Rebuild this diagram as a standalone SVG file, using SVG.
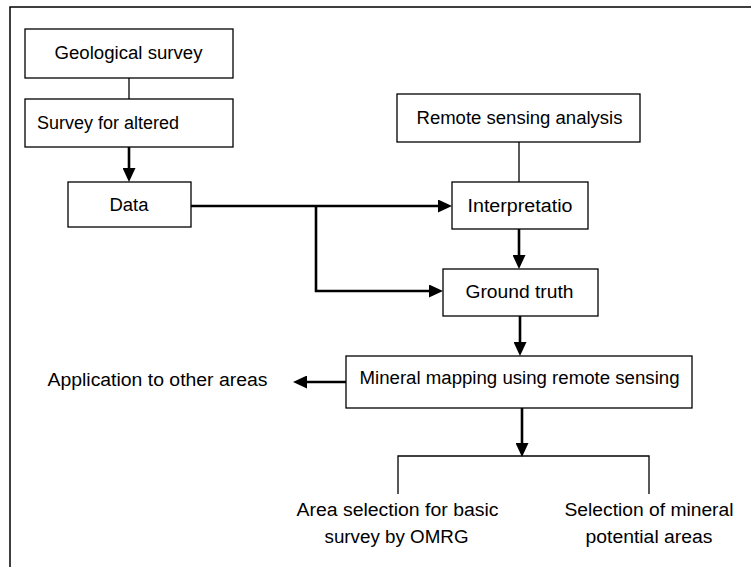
<svg xmlns="http://www.w3.org/2000/svg" width="751" height="567" viewBox="0 0 751 567">
<style>
  .box { fill: #fff; stroke: #000; stroke-width: 1.3; }
  .lbl { font-family: "Liberation Sans", Arial, sans-serif; font-size: 18px; fill: #000; }
  .c { text-anchor: middle; }
  .thin { fill: none; stroke: #000; stroke-width: 1.3; }
  .arr { fill: none; stroke: #000; stroke-width: 2.6; marker-end: url(#ah); }
  .bold { fill: none; stroke: #000; stroke-width: 2.6; }
</style>
<defs>
  <marker id="ah" viewBox="0 0 14 13" refX="0" refY="6.5" markerWidth="14" markerHeight="13" markerUnits="userSpaceOnUse" orient="auto">
    <path d="M0,0 L14,6.5 L0,13 z" fill="#000"/>
  </marker>
</defs>
<rect width="751" height="567" fill="#fff"/>
<rect id="frame" x="10" y="7" width="800" height="620" fill="none" stroke="#000" stroke-width="1.5"/>

<g id="connectors">
  <line class="thin" x1="129" y1="78" x2="129" y2="99"/>
  <line class="arr" x1="129" y1="147" x2="129" y2="168"/>
  <line class="arr" x1="191" y1="206" x2="438" y2="206"/>
  <polyline class="arr" points="316,206 316,291 429,291"/>
  <line class="thin" x1="519" y1="142" x2="519" y2="182"/>
  <line class="arr" x1="519" y1="229" x2="519" y2="255"/>
  <line class="arr" x1="520" y1="316" x2="520" y2="342"/>
  <line class="arr" x1="346" y1="382" x2="307" y2="382"/>
  <line class="arr" x1="522" y1="408" x2="522" y2="443"/>
  <polyline class="thin" points="398,494 398,456 649,456 649,494"/>
</g>

<g id="geological-survey">
  <rect class="box" x="25" y="29" width="208" height="49"/>
  <text class="lbl c" x="128.5" y="59" textLength="148" lengthAdjust="spacingAndGlyphs">Geological survey</text>
</g>
<g id="survey-altered">
  <rect class="box" x="25" y="99" width="208" height="48"/>
  <text class="lbl" x="37" y="129" textLength="142" lengthAdjust="spacingAndGlyphs">Survey for altered</text>
</g>
<g id="data">
  <rect class="box" x="68" y="182" width="123" height="45"/>
  <text class="lbl c" x="129" y="211" textLength="39" lengthAdjust="spacingAndGlyphs">Data</text>
</g>
<g id="remote-sensing-analysis">
  <rect class="box" x="397" y="94" width="243" height="48"/>
  <text class="lbl c" x="519.5" y="124" textLength="206" lengthAdjust="spacingAndGlyphs">Remote sensing analysis</text>
</g>
<g id="interpretation">
  <rect class="box" x="452" y="182" width="136" height="47"/>
  <text class="lbl c" x="520" y="212" textLength="105" lengthAdjust="spacingAndGlyphs">Interpretatio</text>
</g>
<g id="ground-truth">
  <rect class="box" x="443" y="269" width="155" height="47"/>
  <text class="lbl c" x="519.5" y="298" textLength="108" lengthAdjust="spacingAndGlyphs">Ground truth</text>
</g>
<g id="mineral-mapping">
  <rect class="box" x="346" y="356" width="346" height="52"/>
  <text class="lbl c" x="519.5" y="384" textLength="320" lengthAdjust="spacingAndGlyphs">Mineral mapping using remote sensing</text>
</g>
<g id="application">
  <text class="lbl c" x="157.5" y="386" textLength="220" lengthAdjust="spacingAndGlyphs">Application to other areas</text>
</g>
<g id="area-selection">
  <text class="lbl c" x="397.5" y="516" textLength="202" lengthAdjust="spacingAndGlyphs">Area selection for basic</text>
  <text class="lbl c" x="396.5" y="543" textLength="144" lengthAdjust="spacingAndGlyphs">survey by OMRG</text>
</g>
<g id="mineral-potential">
  <text class="lbl c" x="649" y="516" textLength="169" lengthAdjust="spacingAndGlyphs">Selection of mineral</text>
  <text class="lbl c" x="649" y="543" textLength="127" lengthAdjust="spacingAndGlyphs">potential areas</text>
</g>
</svg>
